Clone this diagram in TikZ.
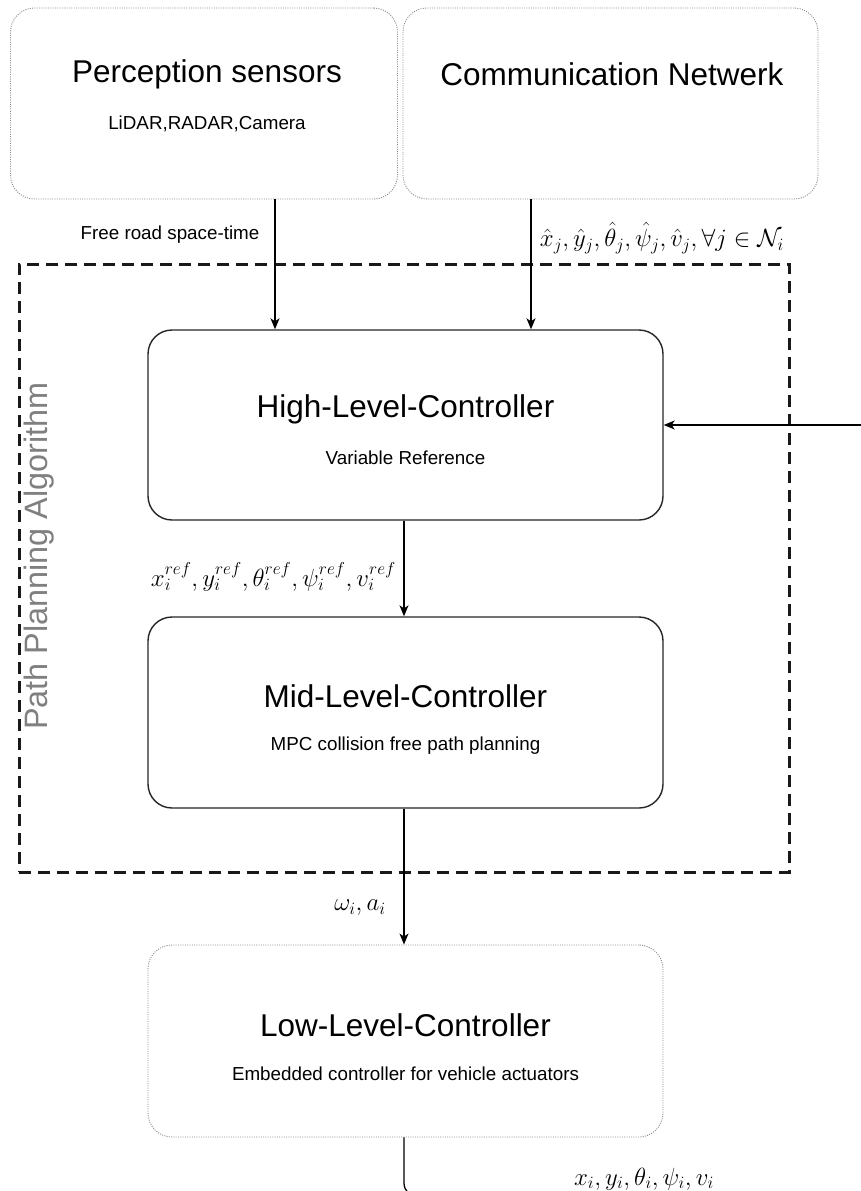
\documentclass[tikz,border=0pt]{standalone}
\usepackage{fontspec}
\setmainfont{Liberation Sans}
\usetikzlibrary{arrows.meta}
\begin{document}
\begin{tikzpicture}[x=1pt,y=-1pt,
  sensorbox/.style={draw=black!45, line width=0.9pt, dash pattern=on 1pt off 1.3pt, rounded corners=24pt, minimum height=191pt, inner sep=0pt},
  ctrlbox/.style={draw=black!85, line width=1.4pt, rounded corners=24pt, minimum width=515pt, minimum height=190pt, inner sep=0pt},
  lowbox/.style={sensorbox, minimum width=515pt, minimum height=192pt},
  titletext/.style={font=\fontsize{31.5}{36}\selectfont, inner sep=0pt},
  subtext/.style={font=\fontsize{18.8}{22}\selectfont, inner sep=0pt},
  mathlbl/.style={font=\fontsize{24.5}{28}\selectfont, inner sep=0pt},
  arr/.style={draw=black, line width=1.3pt, -{Stealth[length=11pt,width=9pt,inset=3pt]}},
  groupbox/.style={draw=black!90, line width=3pt, dash pattern=on 12pt off 7pt, inner sep=0pt},
  grouplabel/.style={font=\fontsize{32.4}{36}\selectfont, text=black!50, rotate=90, inner sep=0pt}
]
\useasboundingbox (0,0) rectangle (861,1191);
\fill[white] (0,0) rectangle (861,1191);

% group box
\node[groupbox, minimum width=770pt, minimum height=608pt] (ppa) at (404,568) {};
\node[grouplabel] (ppalbl) at (39,556) {Path Planning Algorithm};

% top boxes
\node[sensorbox, minimum width=387pt] (perc) at (204,103.5) {};
\node[titletext] (perct) at (207,74) {Perception sensors};
\node[subtext] (percs) at (207,124) {LiDAR,RADAR,Camera};

\node[sensorbox, minimum width=415pt] (comm) at (610.5,103.5) {};
\node[titletext] (commt) at (612,74) {Communication Netwerk};

% controllers
\node[ctrlbox] (hlc) at (405.5,425) {};
\node[titletext] (hlct) at (405.5,409) {High-Level-Controller};
\node[subtext] (hlcs) at (405.5,458) {Variable Reference};

\node[ctrlbox, minimum height=191pt] (mlc) at (405.5,712.5) {};
\node[titletext] (mlct) at (405.5,696.5) {Mid-Level-Controller};
\node[subtext] (mlcs) at (405.5,745.5) {MPC collision free path planning};

\node[lowbox] (llc) at (405.5,1041) {};
\node[titletext] (llct) at (405.5,1025) {Low-Level-Controller};
\node[subtext] (llcs) at (405.5,1074) {Embedded controller for vehicle actuators};

% connectors
\coordinate (xp) at (275,0);
\coordinate (xc) at (531,0);
\coordinate (xm) at (404,0);
\draw[arr] (perc.south -| xp) -- (hlc.north -| xp);
\draw[arr] (comm.south -| xc) -- (hlc.north -| xc);
\draw[arr] (hlc.south -| xm) -- (mlc.north -| xm);
\draw[arr] (mlc.south -| xm) -- (llc.north -| xm);
\coordinate (fbin) at (875,425);
\draw[arr] (fbin) -- (hlc.east);
\coordinate (outend) at (900,1197);
\draw[line width=1.3pt, rounded corners=14pt] (llc.south -| xm) |- (outend);

% labels
\node[subtext] (lfree) at (170,235) {Free road space-time};
\node[mathlbl] (lnb) at (662,238) {$\hat{x}_j,\hat{y}_j,\hat{\theta}_j,\hat{\psi}_j,\hat{v}_j,\forall j \in \mathcal{N}_i$};
\node[mathlbl, anchor=east] (lref) at (396,577) {$x_i^{ref}, y_i^{ref}, \theta_i^{ref}, \psi_i^{ref}, v_i^{ref}$};
\node[mathlbl] (lom) at (360,908) {$\omega_i, a_i$};
\node[mathlbl] (lout) at (644,1179) {$x_i, y_i, \theta_i, \psi_i, v_i$};
\end{tikzpicture}
\end{document}
